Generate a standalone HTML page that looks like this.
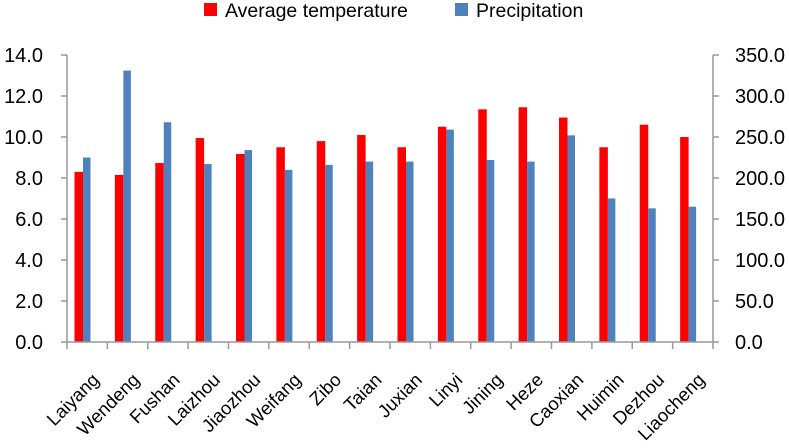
<!DOCTYPE html>
<html><head><meta charset="utf-8"><style>
body{margin:0;background:#fff;}
svg{display:block;font-family:"Liberation Sans",sans-serif;}
</style></head><body>
<svg id="chart" width="789" height="448">
<g id="legend">
 <rect x="204" y="3" width="13" height="13" fill="#ff0000"/>
 <text x="225" y="17" font-size="19.5" fill="#000">Average temperature</text>
 <rect x="455" y="3" width="13" height="13" fill="#4f81bd"/>
 <text x="476" y="17" font-size="19.5" fill="#000">Precipitation</text>
</g>
<g id="bars"></g>
<g id="axes"></g>
</svg>
<script>
const categories=["Laiyang","Wendeng","Fushan","Laizhou","Jiaozhou","Weifang","Zibo","Taian","Juxian","Linyi","Jining","Heze","Caoxian","Huimin","Dezhou","Liaocheng"];
const temperature=[8.3,8.15,8.73,9.95,9.17,9.5,9.8,10.1,9.5,10.5,11.35,11.45,10.95,9.5,10.6,10.0];
const precipitation=[225,331,268,217,234,210,216,220,220,259,222,220,252,175,163,165];
const leftTicks=["0.0","2.0","4.0","6.0","8.0","10.0","12.0","14.0"];
const rightTicks=["0.0","50.0","100.0","150.0","200.0","250.0","300.0","350.0"];
const NS="http://www.w3.org/2000/svg";
const x0=67,x1=713,yb=342,yt=55;
const cw=(x1-x0)/categories.length;
const yL=v=>yb-(v/14)*(yb-yt);
const yR=v=>yb-(v/350)*(yb-yt);
const bars=document.getElementById('bars'),axes=document.getElementById('axes');
function mk(tag,attrs,parent){const e=document.createElementNS(NS,tag);for(const k in attrs)e.setAttribute(k,attrs[k]);parent.appendChild(e);return e;}
categories.forEach((c,i)=>{
 const cx=x0+i*cw;
 const r=mk('rect',{x:cx+7.5,y:yL(temperature[i]),width:8.5,height:yb-yL(temperature[i]),fill:'#ff0000'},bars);
 
 
 const b=mk('rect',{x:cx+16,y:yR(precipitation[i]),width:7.5,height:yb-yR(precipitation[i]),fill:'#4f81bd'},bars);
 
 
 const px=cx+cw/2+13, py=381;
 const t=mk('text',{x:px,y:py,'font-size':18.5,'text-anchor':'end',transform:`rotate(-45 ${px} ${py})`},axes);
 t.textContent=c;
 
 
});
for(let i=0;i<=categories.length;i++){
 const tk=mk('line',{x1:x0+i*cw,x2:x0+i*cw,y1:yb,y2:yb+7,stroke:'#999','stroke-width':1.5},axes);
 
 
}
const xa=mk('line',{x1:x0,x2:x1,y1:yb,y2:yb,stroke:'#999','stroke-width':1.5},axes);


const la=mk('line',{x1:x0,x2:x0,y1:yt,y2:yb,stroke:'#999','stroke-width':1.5},axes);


const ra=mk('line',{x1:x1,x2:x1,y1:yt,y2:yb,stroke:'#999','stroke-width':1.5},axes);


leftTicks.forEach((l,i)=>{
 const y=yL(parseFloat(l));
 const tk=mk('line',{x1:x0-6,x2:x0,y1:y,y2:y,stroke:'#999','stroke-width':1.5},axes);
 
 
 const t=mk('text',{x:43,y:y+7,'font-size':20,'text-anchor':'end'},axes);
 t.textContent=l;
 
 
});
rightTicks.forEach((l,i)=>{
 const y=yR(parseFloat(l));
 const tk=mk('line',{x1:x1,x2:x1+6,y1:y,y2:y,stroke:'#999','stroke-width':1.5},axes);
 
 
 const t=mk('text',{x:735,y:y+7,'font-size':20,'text-anchor':'start'},axes);
 t.textContent=l;
 
 
});
</script>
</body></html>
